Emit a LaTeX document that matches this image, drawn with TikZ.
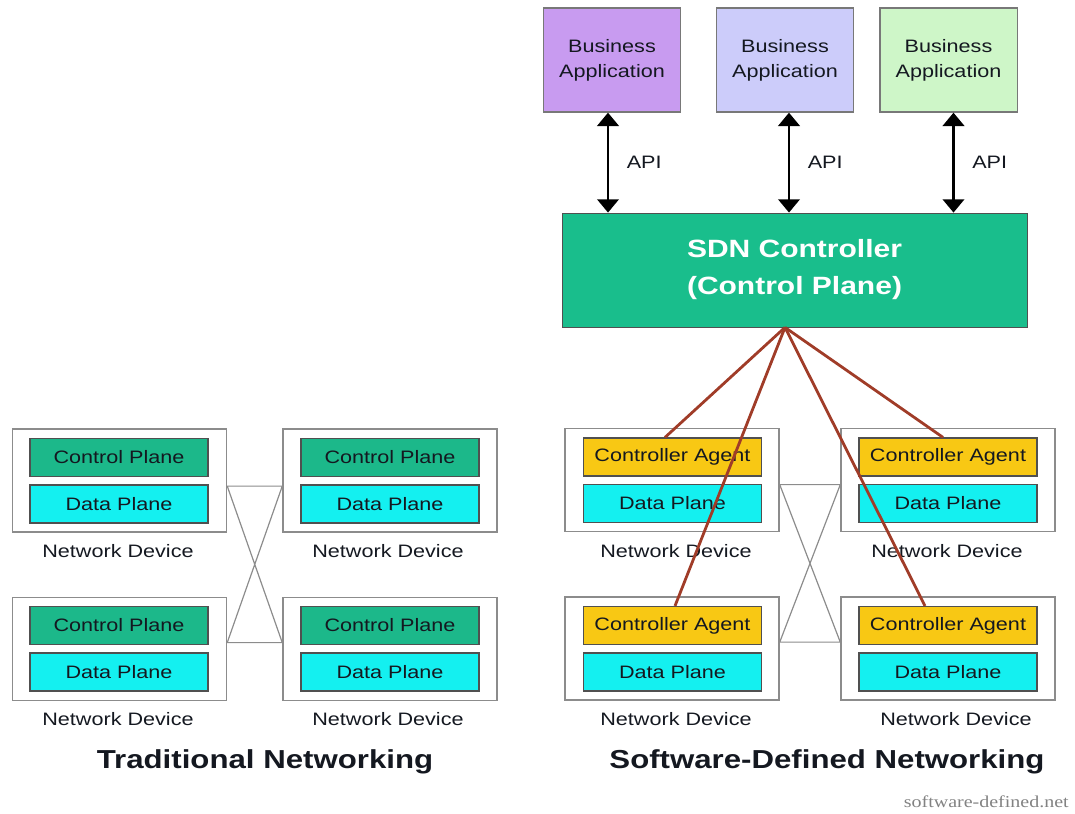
\documentclass[tikz,border=0pt]{standalone}
\usepackage{fontspec}
\setmainfont{Liberation Sans}[FakeStretch=1.2]
\newfontfamily\wmfont{Liberation Serif}[FakeStretch=1.2]
\usetikzlibrary{arrows.meta,calc}
\definecolor{devgray}{RGB}{140,140,140}
\definecolor{planeedge}{RGB}{80,80,80}
\definecolor{cpgreen}{RGB}{28,184,138}
\definecolor{ctrlgreen}{RGB}{25,190,140}
\definecolor{dpcyan}{RGB}{20,240,240}
\definecolor{agold}{RGB}{248,200,20}
\definecolor{txt}{RGB}{20,24,32}
\definecolor{app1c}{RGB}{200,155,240}
\definecolor{app2c}{RGB}{204,204,250}
\definecolor{app3c}{RGB}{206,246,200}
\definecolor{appedge}{RGB}{120,120,120}
\definecolor{redline}{RGB}{160,60,40}
\definecolor{wmgray}{RGB}{130,130,130}
\tikzset{
  dev/.style={draw=devgray, line width=1.1pt, fill=white, minimum width=160.5pt, minimum height=77.5pt, inner sep=0pt},
  plane/.style={draw=planeedge, line width=0.9pt, minimum width=133.5pt, minimum height=28.5pt, inner sep=0pt, font=\fontsize{13.5}{15}\selectfont, text=txt},
  cp/.style={plane, fill=cpgreen},
  dp/.style={plane, fill=dpcyan},
  ca/.style={plane, fill=agold},
  devlabel/.style={font=\fontsize{13.5}{15}\selectfont, text=txt, inner sep=0pt},
  app/.style={draw=appedge, line width=1pt, minimum width=103pt, minimum height=78pt, align=center, inner sep=0pt, font=\fontsize{13.5}{18.75}\selectfont, text=txt},
  api/.style={font=\fontsize{13.5}{15}\selectfont, text=txt, inner sep=0pt},
  apiarrow/.style={line width=2.2pt, {Triangle[width=16pt,length=10pt]}-{Triangle[width=16pt,length=10pt]}},
  link/.style={draw=devgray, line width=0.9pt},
  ctrlink/.style={draw=redline, line width=2.1pt},
  title/.style={font=\bfseries\fontsize{19.5}{22}\selectfont, text=txt, inner sep=0pt},
}
\begin{document}
\begin{tikzpicture}[x=0.75pt,y=-0.75pt]
\useasboundingbox (0,0) rectangle (1075,814);
% ---------- Traditional networking ----------
\node[dev] (L1) at (119.5,480.5) {};
\node[cp] (L1c) at (119,457.5) {Control Plane};
\node[dp] (L1d) at (119,504) {Data Plane};
\node[devlabel] (L1l) at (118,551) {Network Device};
\node[dev] (L2) at (390,480.5) {};
\node[cp] (L2c) at (390,457.5) {Control Plane};
\node[dp] (L2d) at (390,504) {Data Plane};
\node[devlabel] (L2l) at (388,551) {Network Device};
\node[dev] (L3) at (119.5,649) {};
\node[cp] (L3c) at (119,625.5) {Control Plane};
\node[dp] (L3d) at (119,672) {Data Plane};
\node[devlabel] (L3l) at (118,719) {Network Device};
\node[dev] (L4) at (390,649) {};
\node[cp] (L4c) at (390,625.5) {Control Plane};
\node[dp] (L4d) at (390,672) {Data Plane};
\node[devlabel] (L4l) at (388,719) {Network Device};
\coordinate (la) at ($(L1.north east)+(0,58)$);
\coordinate (lb) at ($(L2.north west)+(0,58)$);
\coordinate (lc) at ($(L3.north east)+(0,46)$);
\coordinate (ld) at ($(L4.north west)+(0,46)$);
\draw[link] (la) -- (lb) -- (lc) -- (ld) -- (la);
% ---------- SDN ----------
\node[app, fill=app1c] (A1) at (612,60) {Business\\Application};
\node[app, fill=app2c] (A2) at (785,60) {Business\\Application};
\node[app, fill=app3c] (A3) at (948.5,60) {Business\\Application};
\node[draw=planeedge, line width=0.6pt, fill=ctrlgreen, minimum width=348.75pt, minimum height=85.5pt, inner sep=0pt, align=center, text=white, font=\bfseries\fontsize{18.75}{27.75}\selectfont] (C) at (794.5,270) {SDN Controller\\(Control Plane)};
\draw[apiarrow] ($(A1.south)+(-4,0)$) -- ($(A1.south |- C.north)+(-4,0)$) node[api, midway, right=13pt] (api1) {API};
\draw[apiarrow] ($(A2.south)+(4,0)$) -- ($(A2.south |- C.north)+(4,0)$) node[api, midway, right=13pt] (api2) {API};
\draw[apiarrow] ($(A3.south)+(5,0)$) -- ($(A3.south |- C.north)+(5,0)$) node[api, midway, right=13pt] (api3) {API};

\node[dev] (R1) at (672,480) {};
\node[ca] (R1a) at (672.5,457) {Controller Agent};
\node[dp] (R1d) at (672.5,503.5) {Data Plane};
\node[devlabel] (R1l) at (676,551) {Network Device};
\node[dev] (R2) at (948,480) {};
\node[ca] (R2a) at (948,457) {Controller Agent};
\node[dp] (R2d) at (948,503.5) {Data Plane};
\node[devlabel] (R2l) at (947,551) {Network Device};
\node[dev] (R3) at (672,648.5) {};
\node[ca] (R3a) at (672.5,625.5) {Controller Agent};
\node[dp] (R3d) at (672.5,672) {Data Plane};
\node[devlabel] (R3l) at (676,719) {Network Device};
\node[dev] (R4) at (948,648.5) {};
\node[ca] (R4a) at (948,625.5) {Controller Agent};
\node[dp] (R4d) at (948,672) {Data Plane};
\node[devlabel] (R4l) at (956,719) {Network Device};
\coordinate (ra) at ($(R1.north east)+(0,57)$);
\coordinate (rb) at ($(R2.north west)+(0,57)$);
\coordinate (rc) at ($(R3.north east)+(0,46)$);
\coordinate (rd) at ($(R4.north west)+(0,46)$);
\draw[link] (ra) -- (rb) -- (rc) -- (rd) -- (ra);

\coordinate (hub) at ($(C.south)+(-9.5,0)$);
\draw[ctrlink] (hub) -- ($(R1a.north)+(-7.5,0)$);
\draw[ctrlink] (hub) -- ($(R2a.north)+(-5,0)$);
\draw[ctrlink] (hub) -- ($(R3a.north)+(2.5,0)$);
\draw[ctrlink] (hub) -- ($(R4a.north)+(-23,0)$);
% ---------- titles ----------
\node[title] (t1) at (265,762) {Traditional Networking};
\node[title] (t2) at (827,762) {Software-Defined Networking};
\node[anchor=east, inner sep=0pt, text=wmgray, font=\wmfont\fontsize{12.5}{14}\selectfont] (wm) at (1069,802) {software-defined.net};
\end{tikzpicture}
\end{document}
